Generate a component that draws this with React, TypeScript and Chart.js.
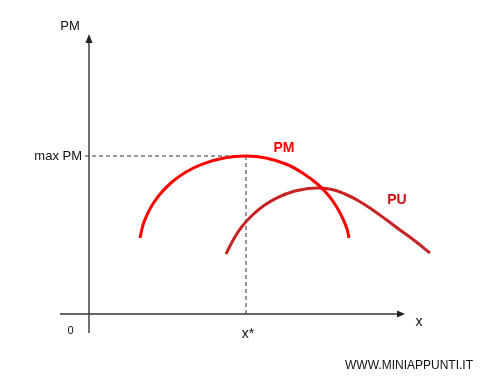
import { useEffect, useRef } from "react";
import { Chart, registerables } from "chart.js";

Chart.register(...registerables);

// Average product (PM) curve
const pmX = [5.1, 5.4, 5.8, 6.4, 7.2, 8.3, 9.7, 11.4, 13.5, 15.7, 17.7, 19.8, 21.5, 22.9, 24.0, 24.8, 25.4, 25.8, 26.0];
const pmY = [7.6, 8.9, 9.92, 11.02, 12.1, 13.2, 14.2, 15.02, 15.61, 15.8, 15.6, 14.95, 14.0, 12.95, 11.8, 10.65, 9.5, 8.5, 7.6];

// Utility (PU) curve
const puX = [13.7, 14.5, 15.3, 16.3, 17.5, 18.9, 20.5, 21.9, 22.9, 24.3, 25.6, 26.9, 28.3, 29.7, 31.1, 32.6, 34.1];
const puY = [6.0, 7.55, 8.75, 9.85, 10.85, 11.67, 12.27, 12.54, 12.6, 12.45, 12.0, 11.35, 10.45, 9.45, 8.4, 7.3, 6.1];

// Optimum point
const xStar = 15.7;
const maxPM = 15.8;

// Axis extents (start, arrow base, arrow tip)
const xAxisExtent = [-2.9, 30.8, 31.6];
const yAxisExtent = [-1.9, 27.1, 28.0];

const FONT = "Arial, 'Liberation Sans', sans-serif";

type Label = { text: string; x: number; y: number; align: CanvasTextAlign; font: string; color: string };

const labels: Label[] = [
  { text: "PM", x: -1.9, y: 28.8, align: "center", font: `13px ${FONT}`, color: "#111" },
  { text: "max PM", x: -0.7, y: maxPM, align: "right", font: `13px ${FONT}`, color: "#111" },
  { text: "0", x: -1.85, y: -1.7, align: "center", font: `11px ${FONT}`, color: "#111" },
  { text: "x*", x: xStar + 0.2, y: -2.0, align: "center", font: `14px ${FONT}`, color: "#111" },
  { text: "x", x: 33.0, y: -0.8, align: "center", font: `14px ${FONT}`, color: "#111" },
  { text: "PM", x: 19.5, y: 16.6, align: "center", font: `bold 14px ${FONT}`, color: "#ff0000" },
  { text: "PU", x: 30.8, y: 11.4, align: "center", font: `bold 14px ${FONT}`, color: "#cc1111" },
  { text: "WWW.MINIAPPUNTI.IT", x: 25.6, y: -5.2, align: "left", font: `12px ${FONT}`, color: "#111" },
];

const toPoints = (xs: number[], ys: number[]) => xs.map((x, i) => ({ x, y: ys[i] }));

const annotations = {
  id: "diagramAnnotations",
  afterDatasetsDraw(chart: any) {
    const { ctx, scales } = chart;
    const sx = (v: number) => scales.x.getPixelForValue(v);
    const sy = (v: number) => scales.y.getPixelForValue(v);
    ctx.save();
    ctx.fillStyle = "#222";
    // arrow on x axis
    const hw = 3.5;
    ctx.beginPath();
    ctx.moveTo(sx(xAxisExtent[2]), sy(0));
    ctx.lineTo(sx(xAxisExtent[1]), sy(0) - hw);
    ctx.lineTo(sx(xAxisExtent[1]), sy(0) + hw);
    ctx.closePath();
    ctx.fill();
    // arrow on y axis
    ctx.beginPath();
    ctx.moveTo(sx(0), sy(yAxisExtent[2]));
    ctx.lineTo(sx(0) - hw, sy(yAxisExtent[1]));
    ctx.lineTo(sx(0) + hw, sy(yAxisExtent[1]));
    ctx.closePath();
    ctx.fill();
    // text labels
    ctx.textBaseline = "middle";
    for (const l of labels) {
      ctx.font = l.font;
      ctx.fillStyle = l.color;
      ctx.textAlign = l.align;
      ctx.fillText(l.text, sx(l.x), sy(l.y));
    }
    ctx.restore();
  },
};

export default function App() {
  const canvasRef = useRef<HTMLCanvasElement | null>(null);

  useEffect(() => {
    if (!canvasRef.current) return;
    const chart = new Chart(canvasRef.current, {
      type: "line",
      data: {
        datasets: [
          {
            label: "PM",
            data: toPoints(pmX, pmY),
            borderColor: "#ff0000",
            borderWidth: 3,
            pointRadius: 0,
            tension: 0.4,
            fill: false,
          },
          {
            label: "PU",
            data: toPoints(puX, puY),
            borderColor: "#c62424",
            borderWidth: 3,
            pointRadius: 0,
            tension: 0.4,
            fill: false,
          },
          {
            label: "max PM guide",
            data: [
              { x: -0.4, y: maxPM },
              { x: xStar, y: maxPM },
              { x: xStar, y: 0 },
            ],
            borderColor: "#333",
            borderWidth: 1,
            borderDash: [4, 3],
            pointRadius: 0,
            tension: 0,
            fill: false,
          },
          {
            label: "x axis",
            data: [
              { x: xAxisExtent[0], y: 0 },
              { x: xAxisExtent[1], y: 0 },
            ],
            borderColor: "#333",
            borderWidth: 1.3,
            pointRadius: 0,
            tension: 0,
            fill: false,
          },
          {
            label: "y axis",
            data: [
              { x: 0, y: yAxisExtent[0] },
              { x: 0, y: yAxisExtent[1] },
            ],
            borderColor: "#222",
            borderWidth: 1.3,
            pointRadius: 0,
            tension: 0,
            fill: false,
          },
        ],
      },
      options: {
        animation: false,
        responsive: false,
        layout: { padding: 0 },
        elements: { line: { capBezierPoints: false } },
        scales: {
          x: { type: "linear", display: false, min: -8.9, max: 41.4 },
          y: { type: "linear", display: false, min: -7.4, max: 31.4 },
        },
        plugins: {
          legend: { display: false },
          tooltip: { enabled: false },
        },
      },
      plugins: [annotations],
    });
    return () => chart.destroy();
  }, []);

  return (
    <div style={{ position: "absolute", left: 0, top: 0, width: 503, height: 388, background: "#fff" }}>
      <canvas ref={canvasRef} width={503} height={388} />
    </div>
  );
}
